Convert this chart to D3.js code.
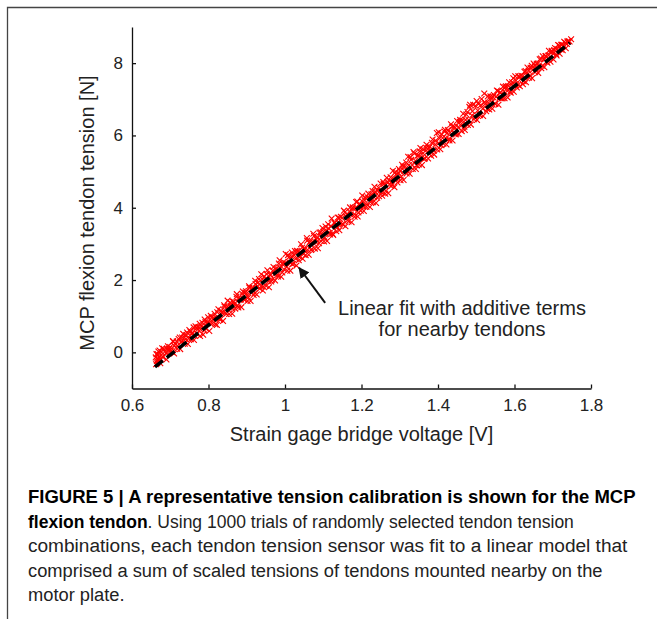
<!DOCTYPE html>
<html>
<head>
<meta charset="utf-8">
<script src="https://cdn.jsdelivr.net/npm/d3@7"></script>
<style>
  body { margin: 0; background: #fff; }
  svg { display: block; }
  .axis path, .axis line { stroke: #111; stroke-width: 1.3; }
  .axis text { font-family: "Liberation Sans", Arial, sans-serif; font-size: 17px; fill: #222; }
  .label { font-family: "Liberation Sans", Arial, sans-serif; font-size: 20px; fill: #222; }
  .caption { font-family: "Liberation Sans", Arial, sans-serif; font-size: 19px; fill: #222; }
</style>
</head>
<body>
<svg width="657" height="619"></svg>
<script>
// calibration trials
var voltage = [
  0.662,0.665,0.669,0.671,0.677,0.680,0.683,0.689,0.691,0.697,0.664,0.666,0.668,0.672,0.674,
  0.700,0.705,0.708,0.711,0.717,0.719,0.725,0.728,0.731,0.737,
  0.741,0.744,0.748,0.753,0.756,0.761,0.763,0.769,0.772,0.777,
  0.779,0.784,0.789,0.792,0.797,0.799,0.805,0.808,0.813,0.816,
  0.821,0.823,0.829,0.833,0.836,0.841,0.844,0.849,0.853,0.857,
  0.861,0.864,0.867,0.873,0.876,0.879,0.885,0.888,0.893,0.896,
  0.899,0.904,0.907,0.912,0.915,0.921,0.923,0.928,0.932,0.937,
  0.941,0.943,0.949,0.952,0.957,0.961,0.964,0.968,0.973,0.976,
  0.981,0.984,0.988,0.993,0.996,1.001,1.005,1.008,1.013,1.017,
  1.019,1.024,1.028,1.031,1.036,1.039,1.045,1.048,1.052,1.057,
  1.059,1.064,1.068,1.072,1.076,1.081,1.084,1.089,1.093,1.096,
  1.101,1.104,1.109,1.113,1.117,1.121,1.124,1.129,1.133,1.137,
  1.141,1.144,1.149,1.152,1.157,1.161,1.164,1.169,1.172,1.177,
  1.181,1.184,1.189,1.192,1.197,1.201,1.205,1.208,1.213,1.216,
  1.221,1.224,1.229,1.233,1.236,1.241,1.245,1.248,1.253,1.257,
  1.261,1.264,1.268,1.273,1.276,1.281,1.284,1.289,1.292,1.297,
  1.301,1.304,1.309,1.312,1.317,1.321,1.324,1.328,1.333,1.336,
  1.341,1.344,1.349,1.352,1.357,1.361,1.364,1.369,1.373,1.376,
  1.381,1.384,1.389,1.393,1.397,1.401,1.404,1.409,1.412,1.417,
  1.421,1.424,1.429,1.432,1.437,1.441,1.445,1.448,1.453,1.457,
  1.461,1.464,1.469,1.472,1.477,1.481,1.484,1.489,1.492,1.497,
  1.501,1.504,1.509,1.512,1.517,1.521,1.524,1.529,1.532,1.537,
  1.541,1.544,1.549,1.552,1.557,1.561,1.564,1.569,1.573,1.576,
  1.581,1.584,1.589,1.593,1.597,1.601,1.604,1.609,1.613,1.617,
  1.621,1.624,1.629,1.632,1.637,1.641,1.645,1.648,1.653,1.657,
  1.661,1.664,1.669,1.673,1.677,1.681,1.684,1.689,1.693,1.697,
  1.701,1.704,1.709,1.712,1.717,1.721,1.724,1.729,1.733,1.737,1.741,
  0.663,0.667,0.670,0.674,0.679,0.682,0.686,0.690,0.694,0.698,
  0.702,0.707,0.710,0.714,0.718,0.722,0.726,0.730,0.734,0.738,
  0.742,0.746,0.750,0.754,0.758,0.762,0.766,0.770,0.774,0.778,
  0.782,0.786,0.790,0.794,0.798,0.802,0.806,0.810,0.814,0.818,
  0.822,0.826,0.830,0.834,0.838,0.842,0.846,0.850,0.854,0.858,
  0.862,0.866,0.870,0.874,0.878,0.882,0.886,0.890,0.894,0.898,
  0.902,0.906,0.910,0.914,0.918,0.922,0.926,0.930,0.934,0.938,
  0.942,0.946,0.950,0.954,0.958,0.962,0.966,0.970,0.974,0.978,
  0.982,0.986,0.990,0.994,0.998,1.002,1.006,1.010,1.014,1.018,
  1.022,1.026,1.030,1.034,1.038,1.042,1.046,1.050,1.054,1.058,
  1.062,1.066,1.070,1.074,1.078,1.082,1.086,1.090,1.094,1.098,
  1.102,1.106,1.110,1.114,1.118,1.122,1.126,1.130,1.134,1.138,
  1.142,1.146,1.150,1.154,1.158,1.162,1.166,1.170,1.174,1.178,
  1.182,1.186,1.190,1.194,1.198,1.202,1.206,1.210,1.214,1.218,
  1.222,1.226,1.230,1.234,1.238,1.242,1.246,1.250,1.254,1.258,
  1.262,1.266,1.270,1.274,1.278,1.282,1.286,1.290,1.294,1.298,
  1.302,1.306,1.310,1.314,1.318,1.322,1.326,1.330,1.334,1.338,
  1.342,1.346,1.350,1.354,1.358,1.362,1.366,1.370,1.374,1.378,
  1.382,1.386,1.390,1.394,1.398,1.402,1.406,1.410,1.414,1.418,
  1.422,1.426,1.430,1.434,1.438,1.442,1.446,1.450,1.454,1.458,
  1.462,1.466,1.470,1.474,1.478,1.482,1.486,1.490,1.494,1.498,
  1.502,1.506,1.510,1.514,1.518,1.522,1.526,1.530,1.534,1.538,
  1.542,1.546,1.550,1.554,1.558,1.562,1.566,1.570,1.574,1.578,
  1.582,1.586,1.590,1.594,1.598,1.602,1.606,1.610,1.614,1.618,
  1.622,1.626,1.630,1.634,1.638,1.642,1.646,1.650,1.654,1.658,
  1.662,1.666,1.670,1.674,1.678,1.682,1.686,1.690,1.694,1.698,
  1.702,1.706,1.710,1.714,1.718,1.722,1.726,1.730,1.734,1.738,1.744,1.748
];
var tension = [
  -0.14,-0.24,0.02,-0.12,0.01,-0.13,0.10,-0.02,0.10,0.10,-0.05,-0.30,-0.18,0.05,-0.20,
  0.15,0.01,0.30,0.18,0.30,0.18,0.41,0.28,0.41,0.41,
  0.37,0.55,0.38,0.57,0.51,0.69,0.47,0.68,0.63,0.79,
  0.63,0.82,0.62,0.84,0.81,0.97,0.80,0.96,0.92,1.07,
  0.95,1.11,0.94,1.15,1.09,1.30,1.10,1.26,1.24,1.38,
  1.22,1.40,1.33,1.54,1.30,1.49,1.46,1.62,1.47,1.65,
  1.62,1.52,1.79,1.66,1.79,1.64,1.89,1.83,2.03,1.83,
  2.02,1.82,2.03,2.17,1.97,2.15,1.96,2.26,2.16,2.29,
  2.15,2.46,2.33,2.21,2.50,2.47,2.37,2.69,2.48,2.65,
  2.44,2.69,2.59,2.81,2.55,2.77,2.90,2.72,2.86,3.16,
  2.84,3.04,2.83,3.06,3.22,3.04,3.18,3.02,3.32,3.20,
  3.34,3.17,3.36,3.54,3.31,3.49,3.28,3.59,3.53,3.46,
  3.72,3.56,3.72,3.54,3.88,3.76,3.66,3.90,3.81,4.01,
  3.82,3.99,4.17,3.87,4.07,4.19,4.04,4.21,4.03,4.29,
  4.25,4.16,4.46,4.29,4.44,4.28,4.55,4.46,4.42,4.71,
  4.61,4.47,4.72,4.64,4.84,4.65,4.81,4.99,4.78,4.96,
  5.01,4.86,5.14,5.02,5.25,5.01,5.18,5.40,5.18,5.54,
  5.30,5.17,5.44,5.56,5.38,5.51,5.35,5.66,5.55,5.65,
  5.57,5.80,5.58,5.75,6.07,5.78,5.92,5.73,5.93,6.11,
  5.92,6.07,5.91,6.08,6.24,6.07,6.22,6.05,6.23,6.38,
  6.27,6.42,6.24,6.43,6.65,6.42,6.85,6.55,6.85,6.51,
  6.95,6.69,6.57,6.84,6.74,7.16,6.88,6.73,6.90,7.08,
  6.92,7.06,6.88,7.07,7.23,7.04,7.19,7.03,7.22,7.34,
  7.23,7.37,7.21,7.41,7.58,7.41,7.52,7.40,7.63,7.56,
  7.64,7.50,7.78,7.67,7.79,7.66,7.93,7.82,7.94,7.81,
  7.99,7.91,8.13,7.93,8.10,8.19,8.04,8.22,8.17,8.34,
  8.26,8.36,8.24,8.39,8.49,8.38,8.51,8.49,8.56,8.53,8.61,
  -0.33,-0.05,-0.21,-0.30,0.11,-0.13,0.02,-0.20,0.17,0.04,
  0.03,0.31,-0.03,0.23,0.10,0.37,0.09,0.30,0.51,0.24,
  0.48,0.23,0.62,0.36,0.55,0.34,0.72,0.51,0.70,0.45,
  0.73,0.49,0.91,0.65,0.84,0.59,1.01,0.80,0.95,0.77,
  0.76,1.19,0.90,1.10,0.87,1.26,1.06,1.43,1.06,1.28,
  1.07,1.40,1.21,1.61,1.24,1.47,1.25,1.68,1.45,1.69,
  1.42,1.83,1.42,1.76,1.59,1.98,1.60,1.93,1.76,2.16,
  1.71,2.10,1.84,2.27,1.80,2.13,2.01,2.36,1.99,2.33,
  2.10,2.55,2.09,2.44,2.29,2.72,2.26,2.63,2.26,2.76,
  2.45,2.80,2.40,2.79,2.64,2.99,2.59,2.88,2.69,3.09,
  2.70,3.07,2.85,3.28,2.87,3.13,2.88,3.31,3.08,3.44,
  3.07,3.48,3.08,3.43,3.26,3.70,3.25,3.58,3.35,3.73,
  3.38,3.75,3.55,3.92,3.49,3.81,3.62,4.01,3.60,3.98,
  3.75,4.16,3.76,4.09,3.92,4.34,3.91,4.28,4.09,4.39,
  4.02,4.37,4.15,4.58,4.13,4.47,4.32,4.67,4.33,4.66,
  4.39,4.83,4.40,4.75,4.60,5.02,4.57,4.92,4.70,5.07,
  4.76,5.19,4.77,5.14,4.95,5.41,4.94,5.33,5.07,5.50,
  5.07,5.44,5.20,5.65,5.18,5.62,5.37,5.74,5.36,5.69,
  5.44,5.89,5.47,5.86,5.61,6.09,5.62,6.03,5.77,6.16,
  5.75,6.15,5.86,6.31,5.86,6.24,6.03,6.40,6.04,6.43,
  6.12,6.60,6.15,6.58,6.29,6.79,6.30,6.67,6.45,6.82,
  6.43,6.87,6.56,7.01,6.54,6.92,6.67,7.08,6.72,7.03,
  6.74,7.12,6.87,7.24,6.85,7.19,7.02,7.35,7.03,7.36,
  7.05,7.47,7.18,7.47,7.21,7.64,7.33,7.64,7.36,7.65,
  7.42,7.76,7.47,7.88,7.60,7.87,7.58,7.99,7.75,7.98,
  7.73,8.11,7.86,8.19,7.89,8.20,8.01,8.34,8.04,8.31,
  8.10,8.42,8.21,8.50,8.26,8.51,8.36,8.59,8.41,8.60,8.60,8.66
];

// dashed linear fit end points
var fitVoltage = [0.66, 1.745];
var fitTension = [-0.40, 8.56];

var xTicks = [0.6, 0.8, 1, 1.2, 1.4, 1.6, 1.8];
var yTicks = [0, 2, 4, 6, 8];

// arrow: tail then tip, in data units
var arrowVoltage = [1.105, 1.037];
var arrowTension = [1.37, 2.34];
var noteLines = ["Linear fit with additive terms", "for nearby tendons"];

var xLabel = "Strain gage bridge voltage [V]";
var yLabel = "MCP flexion tendon tension [N]";

var captionLines = [
  [{t: "FIGURE 5 | A representative tension calibration is shown for the MCP", b: true}],
  [{t: "flexion tendon", b: true}, {t: ". Using 1000 trials of randomly selected tendon tension", b: false}],
  [{t: "combinations, each tendon tension sensor was fit to a linear model that", b: false}],
  [{t: "comprised a sum of scaled tensions of tendons mounted nearby on the", b: false}],
  [{t: "motor plate.", b: false}]
];
// widths of the full lines in the figure; the last line follows their squeeze
var captionWidths = [608, 546, 600, 575];

var svg = d3.select("svg");

// figure frame (top and left rule)
svg.append("path")
    .attr("d", "M7.5,619V7.5H657")
    .attr("fill", "none")
    .attr("stroke", "#444")
    .attr("stroke-width", 1.3);

var x = d3.scaleLinear().domain([0.6, 1.8]).range([132, 591]);
var y = d3.scaleLinear().domain([-1, 9]).range([388.5, 27]);

svg.append("g")
    .attr("class", "axis")
    .attr("transform", "translate(0," + y(-1) + ")")
    .call(d3.axisBottom(x).tickValues(xTicks).tickSize(-4).tickSizeOuter(0).tickPadding(10)
        .tickFormat(function(d) { return String(d); }));

svg.append("g")
    .attr("class", "axis")
    .attr("transform", "translate(" + x(0.6) + ",0)")
    .call(d3.axisLeft(y).tickValues(yTicks).tickSize(-4).tickSizeOuter(0).tickPadding(9));

// red x markers
var pts = voltage.map(function(v, i) { return [v, tension[i]]; });
var m = 2.9;
svg.append("g")
    .selectAll("path")
    .data(pts)
  .enter().append("path")
    .attr("d", function(d) {
        var px = x(d[0]), py = y(d[1]);
        return "M" + (px - m) + "," + (py - m) + "L" + (px + m) + "," + (py + m) +
               "M" + (px - m) + "," + (py + m) + "L" + (px + m) + "," + (py - m);
    })
    .attr("stroke", "#ff0000")
    .attr("stroke-width", 1.1)
    .attr("fill", "none");

var line = d3.line()
    .x(function(d) { return x(d[0]); })
    .y(function(d) { return y(d[1]); });

svg.append("path")
    .datum(fitVoltage.map(function(v, i) { return [v, fitTension[i]]; }))
    .attr("d", line)
    .attr("fill", "none")
    .attr("stroke", "#000")
    .attr("stroke-width", 3.6)
    .attr("stroke-dasharray", "10,5");

// annotation arrow
svg.append("defs").append("marker")
    .attr("id", "head")
    .attr("viewBox", "0 0 10 10")
    .attr("refX", 9)
    .attr("refY", 5)
    .attr("markerWidth", 5.5)
    .attr("markerHeight", 5.5)
    .attr("markerUnits", "strokeWidth")
    .attr("orient", "auto")
  .append("path")
    .attr("d", "M0,0L10,5L0,10z")
    .attr("fill", "#111");

svg.append("path")
    .datum(arrowVoltage.map(function(v, i) { return [v, arrowTension[i]]; }))
    .attr("d", line)
    .attr("stroke", "#111")
    .attr("stroke-width", 2)
    .attr("marker-end", "url(#head)");

svg.append("text")
    .attr("class", "label")
    .attr("text-anchor", "middle")
    .selectAll("tspan")
    .data(noteLines)
  .enter().append("tspan")
    .attr("x", 462)
    .attr("y", function(d, i) { return 315 + i * 20.5; })
    .text(function(d) { return d; });

svg.append("text")
    .attr("class", "label")
    .attr("text-anchor", "middle")
    .attr("x", (x(0.6) + x(1.8)) / 2)
    .attr("y", 441)
    .text(xLabel);

svg.append("text")
    .attr("class", "label")
    .attr("text-anchor", "middle")
    .attr("transform", "translate(94," + 213 + ") rotate(-90)")
    .text(yLabel);

// caption, squeezed sideways like the condensed face of the original
var lastScale = 1;
captionLines.forEach(function(parts, i) {
    var t = svg.append("text")
        .attr("class", "caption")
        .attr("x", 0)
        .attr("y", 0);
    parts.forEach(function(p) {
        t.append("tspan")
            .attr("font-weight", p.b ? "bold" : "normal")
            .attr("fill", p.b ? "#000" : "#222")
            .text(p.t);
    });
    var w = t.node().getComputedTextLength();
    var s = captionWidths[i] ? captionWidths[i] / w : lastScale;
    lastScale = s;
    t.attr("transform", "translate(28," + (503 + i * 24.5) + ") scale(" + s + ",1)");
});
</script>
</body>
</html>
